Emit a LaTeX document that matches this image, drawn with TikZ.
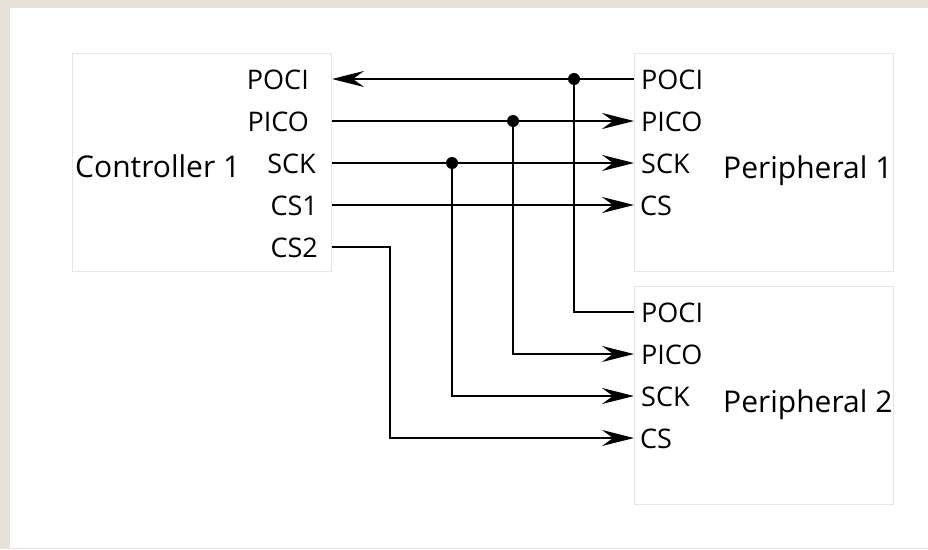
\documentclass[tikz,border=0pt]{standalone}
\usepackage{fontspec}
\setmainfont{Open Sans}
\usetikzlibrary{arrows.meta}
\definecolor{bgbeige}{HTML}{E6E2DA}
\definecolor{boxline}{HTML}{E6E6E6}
\tikzset{
  blockbox/.style={draw=boxline, line width=1pt, fill=white},
  pinlbl/.style={inner sep=0pt, font=\fontsize{27}{32}\selectfont, text height=19.3pt, text depth=0pt},
  titlelbl/.style={inner sep=0pt, font=\fontsize{30}{36}\selectfont, text height=21.4pt, text depth=0pt},
  wire/.style={line width=2.1pt, black},
  arrowwire/.style={wire, -{Stealth[length=32pt, width=16pt, inset=11pt]}},
  junction/.style={circle, fill=black, inner sep=0pt, minimum size=12pt}
}
\begin{document}
\begin{tikzpicture}[x=1pt,y=-1pt]
\useasboundingbox (0,0) rectangle (928,549);
\fill[bgbeige] (0,0) rectangle (928,549);
\fill[white] (10,8) rectangle (928,548);
% boxes
\node[blockbox, minimum width=259pt, minimum height=218pt, anchor=north west] (ctrl) at (72,53) {};
\node[blockbox, minimum width=259pt, minimum height=218pt, anchor=north west] (per1) at (634,53) {};
\node[blockbox, minimum width=259pt, minimum height=218pt, anchor=north west] (per2) at (634,286) {};
% titles
\node[titlelbl, anchor=west] (ctrlt) at (75,167) {Controller 1};
\node[titlelbl, anchor=west] (per1t) at (723,168) {Peripheral 1};
\node[titlelbl, anchor=west] (per2t) at (723,401.5) {Peripheral 2};
% controller pins
\node[pinlbl, anchor=east] (cpoci) at (309,80) {POCI};
\node[pinlbl, anchor=east] (cpico) at (309,122) {PICO};
\node[pinlbl, anchor=east] (csck) at (316,164) {SCK};
\node[pinlbl, anchor=east] (ccsa) at (318,206) {CS1};
\node[pinlbl, anchor=east] (ccsb) at (318,248) {CS2};
% peripheral 1 pins
\node[pinlbl, anchor=west] (apoci) at (641,80) {POCI};
\node[pinlbl, anchor=west] (apico) at (641,122) {PICO};
\node[pinlbl, anchor=west] (asck) at (641,164) {SCK};
\node[pinlbl, anchor=west] (acs) at (640,206) {CS};
% peripheral 2 pins
\node[pinlbl, anchor=west] (bpoci) at (641,313) {POCI};
\node[pinlbl, anchor=west] (bpico) at (641,355) {PICO};
\node[pinlbl, anchor=west] (bsck) at (641,397) {SCK};
\node[pinlbl, anchor=west] (bcs) at (640,439) {CS};
% port coordinates
\coordinate (cpocip) at (332,79);
\coordinate (cpicop) at (332,121);
\coordinate (csckp) at (332,163);
\coordinate (ccsap) at (332,205);
\coordinate (ccsbp) at (332,247);
\coordinate (apocip) at (634,79);
\coordinate (apicop) at (634,121);
\coordinate (asckp) at (634,163);
\coordinate (acsp) at (634,205);
\coordinate (bpocip) at (634,312);
\coordinate (bpicop) at (634,354);
\coordinate (bsckp) at (634,396);
\coordinate (bcsp) at (634,438);
% junctions
\node[junction] (jpoci) at (574,79) {};
\node[junction] (jpico) at (513,121) {};
\node[junction] (jsck) at (452,163) {};
% wires
\draw[arrowwire] (apocip) -- (cpocip);
\draw[wire] (bpocip) -| (jpoci.center);
\draw[arrowwire] (cpicop) -- (apicop);
\draw[arrowwire] (jpico.center) |- (bpicop);
\draw[arrowwire] (csckp) -- (asckp);
\draw[arrowwire] (jsck.center) |- (bsckp);
\draw[arrowwire] (ccsap) -- (acsp);
\draw[arrowwire] (ccsbp) -- (390,247) |- (bcsp);
\end{tikzpicture}
\end{document}
